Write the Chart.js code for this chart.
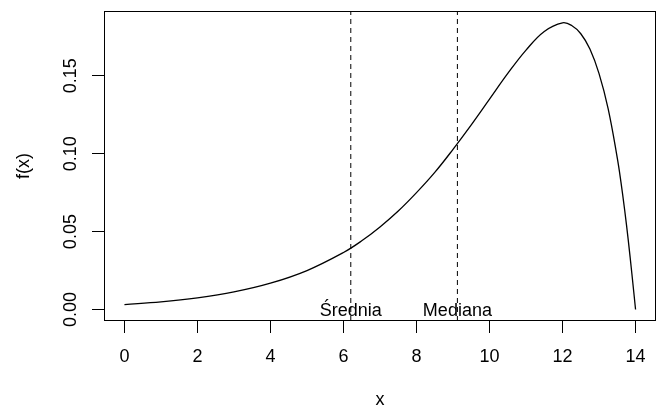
<!DOCTYPE html>
<html>
<head>
<meta charset="utf-8">
<script src="https://cdn.jsdelivr.net/npm/chart.js@4.4.1/dist/chart.umd.min.js"></script>
<style>
html,body{margin:0;padding:0;background:#fff;}
canvas{display:block;}
</style>
</head>
<body>
<canvas id="c" width="659" height="410"></canvas>
<script>
// ---- data ----
const xs = [0, 1, 2, 3, 4, 5, 6, 6.5, 7, 7.5, 8, 8.5, 9, 9.5, 10, 10.5, 11, 11.5, 12, 12.25, 12.5, 12.75, 13, 13.25, 13.5, 13.6, 13.7, 13.8, 13.9, 14];
const fx = [0.0032, 0.0049, 0.0075, 0.0113, 0.0169, 0.0250, 0.0366, 0.0441, 0.0530, 0.0632, 0.0750, 0.0880, 0.1028, 0.1185, 0.1350, 0.1515, 0.1665, 0.1785, 0.1840, 0.1823, 0.1770, 0.1672, 0.1514, 0.1288, 0.0972, 0.0818, 0.0642, 0.0445, 0.0228, 0.0];
const markerNames = ["Średnia", "Mediana"];
const markerX = [6.2, 9.12];
const xTicks = [0, 2, 4, 6, 8, 10, 12, 14];
const yTicks = [0, 0.05, 0.10, 0.15];

// axis limits (R style 4% extension)
const X_MIN = -0.56, X_MAX = 14.56;
const Y_MIN = -0.00737, Y_MAX = 0.1916;

const FONT = '"Liberation Sans", Arial, Helvetica, sans-serif';

const curve = xs.map((x, i) => ({x: x, y: fx[i]}));
const vlines = markerX.map(m => ({
  data: [{x: m, y: Y_MIN}, {x: m, y: Y_MAX}],
  borderColor: '#000',
  borderWidth: 1,
  borderDash: [5, 4],
  pointRadius: 0,
  fill: false,
  tension: 0
}));

const boxPlugin = {
  id: 'box',
  afterDatasetsDraw(chart) {
    const ctx = chart.ctx;
    const a = chart.chartArea;
    const xs_ = chart.scales.x, ys_ = chart.scales.y;
    ctx.save();
    ctx.fillStyle = '#000';
    ctx.font = '18px ' + FONT;
    ctx.textAlign = 'center';
    ctx.textBaseline = 'middle';
    markerNames.forEach((n, i) => {
      ctx.fillText(n, xs_.getPixelForValue(markerX[i]), ys_.getPixelForValue(0) + 2);
    });
    ctx.strokeStyle = '#000';
    ctx.lineWidth = 1;
    ctx.strokeRect(Math.round(a.left) + 0.5, Math.round(a.top) + 0.5,
                   Math.round(a.right - a.left) - 1, Math.round(a.bottom - a.top) - 1);
    ctx.restore();
  }
};

new Chart(document.getElementById('c'), {
  type: 'line',
  data: {
    datasets: [{
      data: curve,
      borderColor: '#000',
      borderWidth: 1.3,
      pointRadius: 0,
      fill: false,
      tension: 0.4
    }].concat(vlines)
  },
  options: {
    responsive: false,
    devicePixelRatio: 1,
    animation: false,
    events: [],
    layout: {padding: {top: 11, right: 3, left: 0, bottom: 0}},
    plugins: {legend: {display: false}, tooltip: {enabled: false}},
    scales: {
      x: {
        type: 'linear',
        min: X_MIN, max: X_MAX,
        afterBuildTicks: s => { s.ticks = xTicks.map(v => ({value: v})); },
        afterFit: s => { s.height = 89; s.paddingLeft = 0; s.paddingRight = 0; },
        grid: {drawOnChartArea: false, drawTicks: true, tickLength: 12, color: '#000', lineWidth: 1},
        border: {display: false},
        ticks: {
          color: '#000', padding: 13, autoSkip: false, maxRotation: 0,
          font: {family: FONT, size: 18},
          callback: v => String(v)
        },
        title: {display: true, text: 'x', color: '#000', font: {family: FONT, size: 18, lineHeight: 1.1}, padding: {top: 0, bottom: 0}}
      },
      y: {
        type: 'linear',
        min: Y_MIN, max: Y_MAX,
        afterBuildTicks: s => { s.ticks = yTicks.map(v => ({value: v})); },
        afterFit: s => { s.width = 104; s.paddingTop = 0; s.paddingBottom = 0; },
        grid: {drawOnChartArea: false, drawTicks: true, tickLength: 12, color: '#000', lineWidth: 1},
        border: {display: false},
        ticks: {
          color: '#000', padding: 3, autoSkip: false,
          minRotation: 90, maxRotation: 90, crossAlign: 'center',
          font: {family: FONT, size: 18},
          callback: v => v.toFixed(2)
        },
        title: {display: true, text: 'f(x)', color: '#000', font: {family: FONT, size: 18, lineHeight: 1.2}, padding: {top: 13, bottom: 0}}
      }
    }
  },
  plugins: [boxPlugin]
});
</script>
</body>
</html>
